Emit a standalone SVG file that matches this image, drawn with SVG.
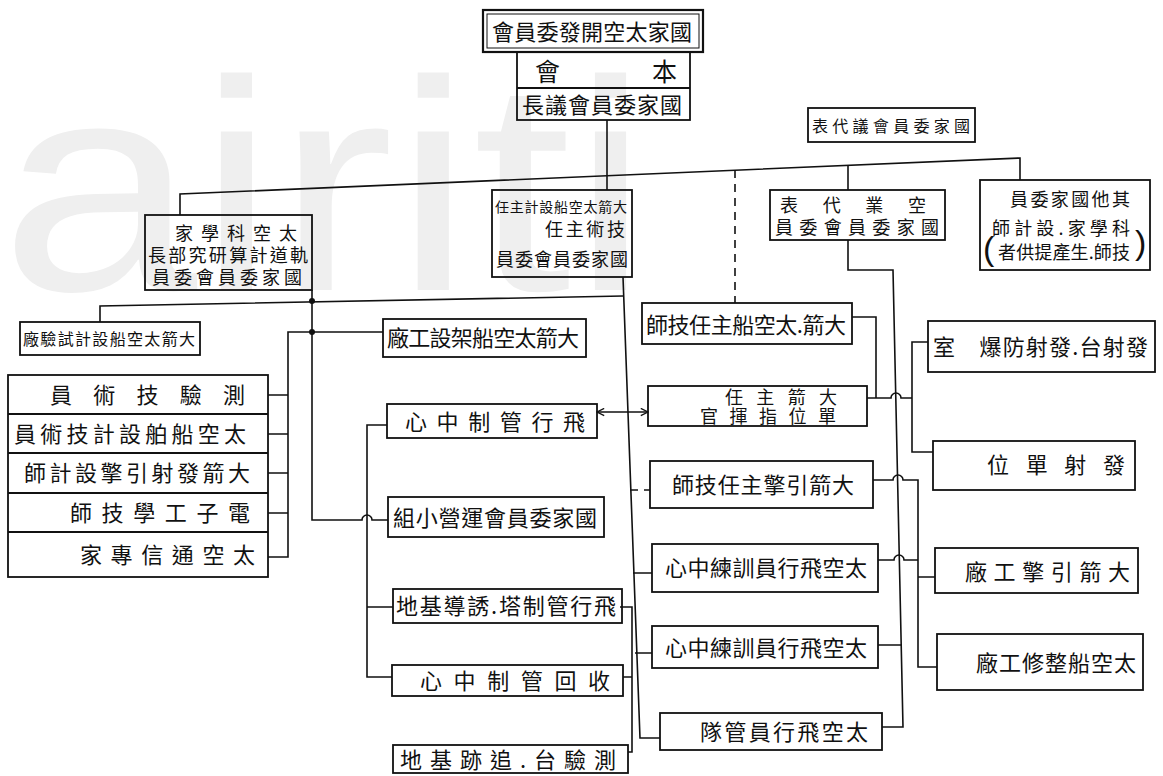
<svg xmlns="http://www.w3.org/2000/svg" width="1163" height="776" viewBox="0 0 1163 776">
<defs>
<style>
.b{fill:none;stroke:#111;stroke-width:1.8}
.c{fill:none;stroke:#111;stroke-width:1.6}
.d{fill:none;stroke:#111;stroke-width:1.6;stroke-dasharray:8 6}
text{font-family:"Noto Sans CJK TC","Noto Sans CJK SC",sans-serif;fill:#111;font-size:22px}
.s{font-size:18px}
.t{font-size:16px}
.x{font-size:14px}
.l{font-size:25px}
.p{font-family:"Liberation Sans",Arial,sans-serif;font-size:34px}
.wm{font-family:"Liberation Sans",Arial,sans-serif;font-size:300px;fill:#efefef}
</style>
<marker id="ah" viewBox="0 0 10 10" refX="9" refY="5" markerWidth="9" markerHeight="9" orient="auto-start-reverse" markerUnits="userSpaceOnUse">
<path d="M1 1 L9 5 L1 9" fill="none" stroke="#111" stroke-width="1.5"/>
</marker>
</defs>
<rect width="1163" height="776" fill="#fff"/>
<text class="wm" x="0" y="290" textLength="650" lengthAdjust="spacingAndGlyphs">airiti</text>

<g id="connectors">
<path class="c" d="M607 120 V190"/>
<path class="c" d="M180 215 V194 L1020 158 V180"/>
<path class="c" d="M848 165.4 V190"/>
<path class="d" d="M735 170 V303"/>
<path class="c" d="M100 322 V306 L623 296"/>
<path class="c" d="M623 277 L640 738 H660"/>
<path class="c" d="M312 290 V520 H362 a5 5 0 0 1 10 0 H388"/>
<circle cx="312" cy="301" r="3" fill="#111"/>
<circle cx="312" cy="332" r="3" fill="#111"/>
<path class="c" d="M383 332 H288 V557 H268"/>
<path class="c" d="M268 395 H288 M268 434 H288 M268 473 H288 M268 513 H288"/>
<path class="c" d="M387 425 H367 V677 H392 M367 607 H393"/>
<path class="c" d="M597 412 H648" marker-start="url(#ah)" marker-end="url(#ah)"/>
<path class="c" d="M620 607 H632 V752 H628 M623 677 H632"/>
<path class="d" d="M630 490 H650"/>
<path class="c" d="M633 573 H652 M635 653 H652"/>
<path class="c" d="M848 240 V270 H893 L903 727 H882 M878 645 H901"/>
<path class="c" d="M852 317 H876 V398"/>
<path class="c" d="M867 398 H891 a5 5 0 0 1 10 0 H912"/>
<path class="c" d="M928 342 H912 V452 H933"/>
<path class="c" d="M873 480 H893 a5 5 0 0 1 10 0 H918 V667 H937 M918 577 H935"/>
<path class="c" d="M878 560 H894 a5 5 0 0 1 10 0 H918"/>
</g>

<g id="n-title">
<rect class="b" x="483" y="10" width="220" height="42" style="stroke-width:2.2"/>
<rect class="c" x="487" y="14" width="212" height="34" style="stroke-width:1"/>
<text x="492" y="40" textLength="200" lengthAdjust="spacing">會員委發開空太家國</text>
</g>
<g id="n-benhui">
<rect class="b" x="517" y="52" width="173" height="68"/>
<line class="b" x1="517" y1="88" x2="690" y2="88"/>
<text class="l" x="535" y="81" textLength="142" lengthAdjust="spacing">會本</text>
<text x="522" y="113" textLength="160" lengthAdjust="spacing">長議會員委家國</text>
</g>
<g id="n-daibiao">
<rect class="b" x="808" y="108" width="167" height="34"/>
<text class="t" x="812" y="132" textLength="158" lengthAdjust="spacing">表代議會員委家國</text>
</g>
<g id="n-scientist">
<rect class="b" x="145" y="215" width="167" height="75"/>
<text class="s" x="175" y="240" textLength="122" lengthAdjust="spacing">家學科空太</text>
<text class="s" x="148" y="262" textLength="160" lengthAdjust="spacing">長部究研算計道軌</text>
<text class="s" x="152" y="284" textLength="150" lengthAdjust="spacing">員委會員委家國</text>
</g>
<g id="n-center">
<rect class="b" x="492" y="190" width="140" height="87"/>
<text class="x" x="495" y="212" textLength="132" lengthAdjust="spacing">任主計設船空太箭大</text>
<text class="s" x="545" y="236" textLength="80" lengthAdjust="spacing">任主術技</text>
<text class="s" x="496" y="266" textLength="132" lengthAdjust="spacing">員委會員委家國</text>
</g>
<g id="n-industry">
<rect class="b" x="770" y="190" width="175" height="50"/>
<text class="s" x="780" y="212" textLength="146" lengthAdjust="spacing">表代業空</text>
<text class="s" x="775" y="234" textLength="164" lengthAdjust="spacing">員委會員委家國</text>
</g>
<g id="n-other">
<rect class="b" x="980" y="180" width="170" height="90"/>
<text class="s" x="1010" y="206" textLength="120" lengthAdjust="spacing">員委家國他其</text>
<text class="s" x="992" y="235" textLength="138" lengthAdjust="spacing">師計設.家學科</text>
<text class="s" x="998" y="259" textLength="132" lengthAdjust="spacing">者供提產生.師技</text>
<text class="p" x="983" y="260">(</text>
<text class="p" x="1135" y="254">)</text>
</g>
<g id="n-testfactory">
<rect class="b" x="20" y="322" width="180" height="33"/>
<text class="t" x="23" y="345" textLength="172" lengthAdjust="spacing">廠驗試計設船空太箭大</text>
</g>
<g id="n-staff">
<rect class="b" x="8" y="375" width="260" height="202"/>
<path class="b" d="M8 414 H268 M8 453 H268 M8 493 H268 M8 532 H268"/>
<text x="50" y="403" textLength="195" lengthAdjust="spacing">員術技驗測</text>
<text x="14" y="442" textLength="232" lengthAdjust="spacing">員術技計設舶船空太</text>
<text x="24" y="481" textLength="226" lengthAdjust="spacing">師計設擎引射發箭大</text>
<text x="70" y="521" textLength="180" lengthAdjust="spacing">師技學工子電</text>
<text x="80" y="563" textLength="175" lengthAdjust="spacing">家專信通空太</text>
</g>
<g id="n-assembly">
<rect class="b" x="383" y="319" width="203" height="38"/>
<text x="387" y="346" textLength="192" lengthAdjust="spacing">廠工設架船空太箭大</text>
</g>
<g id="n-flightctrl">
<rect class="b" x="387" y="404" width="210" height="34"/>
<text x="405" y="430" textLength="180" lengthAdjust="spacing">心中制管行飛</text>
</g>
<g id="n-ops">
<rect class="b" x="388" y="497" width="216" height="40"/>
<text x="393" y="526" textLength="204" lengthAdjust="spacing">組小營運會員委家國</text>
</g>
<g id="n-tower">
<rect class="b" x="393" y="589" width="229" height="34"/>
<text x="396" y="614" textLength="220" lengthAdjust="spacing">地基導誘.塔制管行飛</text>
</g>
<g id="n-recovery">
<rect class="b" x="392" y="665" width="231" height="31"/>
<text x="420" y="689" textLength="190" lengthAdjust="spacing">心中制管回收</text>
</g>
<g id="n-tracking">
<rect class="b" x="393" y="745" width="235" height="28"/>
<text x="400" y="768" textLength="216" lengthAdjust="spacing">地基跡追.台驗測</text>
</g>
<g id="n-chiefeng">
<rect class="b" x="642" y="303" width="210" height="41"/>
<text x="646" y="333" textLength="200" lengthAdjust="spacing">師技任主船空太.箭大</text>
</g>
<g id="n-rocketchief">
<rect class="b" x="648" y="386" width="219" height="40"/>
<text class="s" x="725" y="404" textLength="112" lengthAdjust="spacing">任主箭大</text>
<text class="s" x="700" y="423" textLength="136" lengthAdjust="spacing">官揮指位單</text>
</g>
<g id="n-enginetech">
<rect class="b" x="650" y="461" width="223" height="47"/>
<text x="672" y="493" textLength="182" lengthAdjust="spacing">師技任主擎引箭大</text>
</g>
<g id="n-training1">
<rect class="b" x="652" y="544" width="226" height="48"/>
<text x="665" y="576" textLength="202" lengthAdjust="spacing">心中練訓員行飛空太</text>
</g>
<g id="n-training2">
<rect class="b" x="652" y="626" width="226" height="42"/>
<text x="665" y="656" textLength="202" lengthAdjust="spacing">心中練訓員行飛空太</text>
</g>
<g id="n-corps">
<rect class="b" x="660" y="713" width="222" height="37"/>
<text x="700" y="740" textLength="168" lengthAdjust="spacing">隊管員行飛空太</text>
</g>
<g id="n-launchpad">
<rect class="b" x="928" y="321" width="227" height="51"/>
<text x="933" y="355" textLength="215" lengthAdjust="spacing">室　爆防射發.台射發</text>
</g>
<g id="n-launchunit">
<rect class="b" x="933" y="441" width="202" height="49"/>
<text x="987" y="473" textLength="138" lengthAdjust="spacing">位單射發</text>
</g>
<g id="n-enginefactory">
<rect class="b" x="935" y="548" width="203" height="45"/>
<text x="965" y="580" textLength="165" lengthAdjust="spacing">廠工擎引箭大</text>
</g>
<g id="n-repair">
<rect class="b" x="937" y="634" width="206" height="56"/>
<text x="976" y="671" textLength="160" lengthAdjust="spacing">廠工修整船空太</text>
</g>
</svg>
